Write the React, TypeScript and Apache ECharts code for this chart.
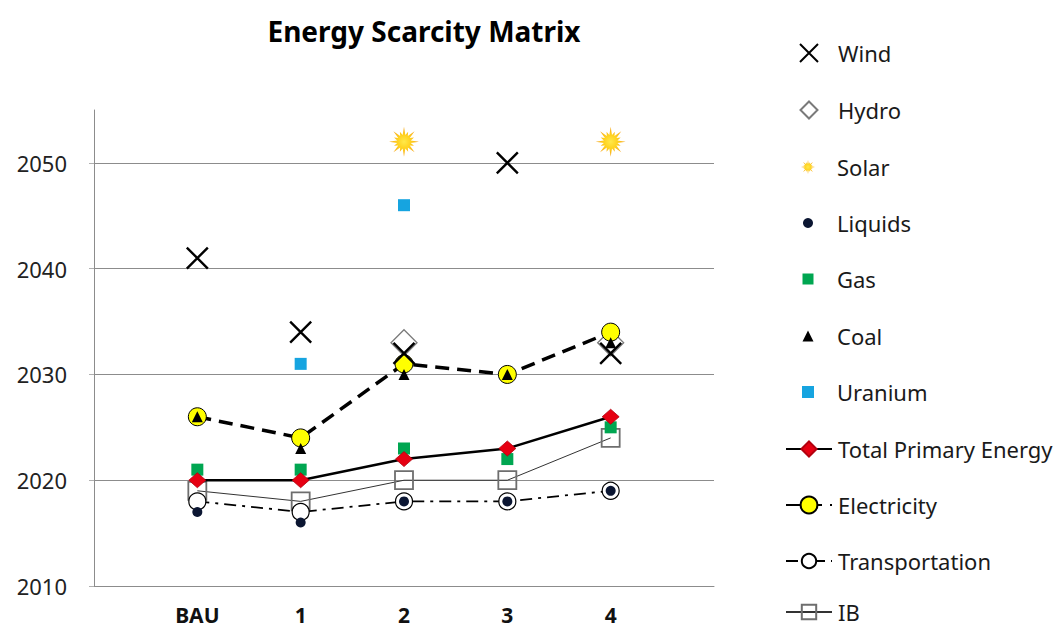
import React, { useEffect, useRef } from 'react';
import * as echarts from 'echarts';

// ---- data ----
const scenarios = ['BAU', '1', '2', '3', '4'];
const yMin = 2010;
const yMax = 2055;
const yStep = 10;
const wind = [2041, 2034, 2032, 2050, 2032];
const hydro = [null, null, 2033, null, 2033];
const solar = [null, null, 2052, null, 2052];
const liquids = [2017, 2016, 2018, 2018, 2019];
const gas = [2021, 2021, 2023, 2022, 2025];
const coal = [2026, 2023, 2030, 2030, 2033];
const uranium = [null, 2031, 2046, null, null];
const totalPrimary = [2020, 2020, 2022, 2023, 2026];
const electricity = [2026, 2024, 2031, 2030, 2034];
const transportation = [2018, 2017, 2018, 2018, 2019];
const ib = [2019, 2018, 2020, 2020, 2024];

const FONT = '"Noto Sans", "Open Sans", sans-serif';

// pad with empty slots at both ends of the category axis
const pad = (arr: (number | null)[]) => [null, ...arr, null];
const cats = ['', ...scenarios, ''];

function sunPath(): string {
  const pts: string[] = [];
  const n = 32;
  for (let i = 0; i < n; i++) {
    const a = (i * Math.PI * 2) / n - Math.PI / 2;
    let r = 4.6;
    if (i % 4 === 0) r = 10;
    else if (i % 2 === 0) r = 7.2;
    pts.push(`${(r * Math.cos(a)).toFixed(3)},${(r * Math.sin(a)).toFixed(3)}`);
  }
  return 'path://M' + pts.join('L') + 'Z';
}

const X_PATH = 'path://M0,0L20,20M20,0L0,20';

// legend layout (positions / icon sizes)
const ICON_CX = 808;
const TEXT_X = 837;
const LINE_LEFT = 785;
const legendRows = [
  { name: 'Wind', cy: 53, h: 18, line: false },
  { name: 'Hydro', cy: 110, h: 17, line: false },
  { name: 'Solar', cy: 167, h: 14, line: false },
  { name: 'Liquids', cy: 223, h: 10, line: false },
  { name: 'Gas', cy: 279, h: 11, line: false },
  { name: 'Coal', cy: 336, h: 11, line: false },
  { name: 'Uranium', cy: 392, h: 12, line: false },
  { name: 'Total Primary Energy', cy: 449, h: 19, line: true },
  { name: 'Electricity', cy: 505, h: 21, line: true },
  { name: 'Transportation', cy: 561, h: 18, line: true },
  { name: 'IB', cy: 612, h: 18, line: true },
];

export default function App() {
  const ref = useRef<HTMLDivElement>(null);
  useEffect(() => {
    if (!ref.current) return;
    const chart = echarts.init(ref.current, undefined, { renderer: 'svg' });
    const sunFill = new echarts.graphic.RadialGradient(0.5, 0.5, 0.5, [
      { offset: 0, color: '#FFE94A' },
      { offset: 0.45, color: '#FFD21F' },
      { offset: 1, color: '#F5A21A' },
    ]);
    const option: any = {
      animation: false,
      backgroundColor: '#ffffff',
      title: {
        text: 'Energy Scarcity Matrix',
        left: 424,
        top: 17,
        textAlign: 'center',
        padding: 0,
        textStyle: { fontFamily: FONT, fontWeight: 'bold', fontSize: 28, color: '#000' },
      },
      legend: legendRows.map((r) => {
        const w = r.line ? 46 : r.h;
        const left = r.line ? LINE_LEFT : ICON_CX - r.h / 2;
        const padLeft = Math.max(0, TEXT_X - (left + w + 5));
        return {
          data: [r.name],
          left,
          top: r.cy - 11,
          padding: 0,
          orient: 'vertical',
          itemWidth: w,
          itemHeight: r.h,
          selectedMode: false,
          textStyle: {
            fontFamily: FONT,
            fontSize: 22,
            color: '#1a1a1a',
            lineHeight: 22,
            padding: [0, 0, 0, padLeft],
          },
        };
      }),
      grid: { left: 94, right: 348, top: 110, bottom: 42, containLabel: false },
      xAxis: {
        type: 'category',
        data: cats,
        boundaryGap: false,
        axisLine: { show: true, lineStyle: { color: '#8c8c8c', width: 1 } },
        axisTick: { show: false },
        axisLabel: {
          interval: 0,
          margin: 19,
          fontFamily: FONT,
          fontWeight: 'bold',
          fontSize: 21,
          lineHeight: 20,
          color: '#111',
        },
        splitLine: { show: false },
      },
      yAxis: {
        type: 'value',
        min: yMin,
        max: yMax,
        interval: yStep,
        axisLine: { show: true, lineStyle: { color: '#8c8c8c', width: 1 } },
        axisTick: { show: true, length: 5, lineStyle: { color: '#b0b0b0' } },
        axisLabel: {
          margin: 27,
          fontFamily: FONT,
          fontSize: 22,
          color: '#222',
          showMaxLabel: false,
          formatter: (v: number) => String(v),
        },
        splitLine: { show: true, showMaxLine: false, lineStyle: { color: '#8c8c8c', width: 1 } },
      },
      series: [
        {
          name: 'Wind',
          type: 'scatter',
          z: 10,
          data: pad(wind),
          symbol: X_PATH,
          symbolSize: 21,
          itemStyle: { color: 'transparent', borderColor: '#000', borderWidth: 2.4, opacity: 1 },
        },
        {
          name: 'Hydro',
          type: 'scatter',
          z: 3,
          data: pad(hydro),
          symbol: 'diamond',
          symbolSize: 26,
          itemStyle: { color: 'transparent', borderColor: '#7a7a7a', borderWidth: 1.3, opacity: 1 },
        },
        {
          name: 'Solar',
          type: 'scatter',
          z: 9,
          data: pad(solar),
          symbol: sunPath(),
          symbolSize: 30,
          itemStyle: { color: sunFill, opacity: 1 },
        },
        {
          name: 'Liquids',
          type: 'scatter',
          z: 8,
          data: pad(liquids),
          symbol: 'circle',
          symbolSize: 10,
          itemStyle: { color: '#0b1632', opacity: 1 },
        },
        {
          name: 'Gas',
          type: 'scatter',
          z: 4,
          data: pad(gas),
          symbol: 'rect',
          symbolSize: 12,
          itemStyle: { color: '#00a651', opacity: 1 },
        },
        {
          name: 'Coal',
          type: 'scatter',
          z: 9,
          data: pad(coal),
          symbol: 'triangle',
          symbolSize: 11,
          itemStyle: { color: '#000', opacity: 1 },
        },
        {
          name: 'Uranium',
          type: 'scatter',
          z: 7,
          data: pad(uranium),
          symbol: 'rect',
          symbolSize: 12,
          itemStyle: { color: '#16a4e0', opacity: 1 },
        },
        {
          name: 'Total Primary Energy',
          type: 'line',
          z: 6,
          data: pad(totalPrimary),
          symbol: 'diamond',
          symbolSize: [17, 15],
          showAllSymbol: true,
          lineStyle: { color: '#000', width: 2.5 },
          itemStyle: { color: '#e60012', borderColor: '#b3000e', borderWidth: 0.8 },
        },
        {
          name: 'Electricity',
          type: 'line',
          z: 5,
          data: pad(electricity),
          symbol: 'circle',
          symbolSize: 18,
          showAllSymbol: true,
          lineStyle: { color: '#000', width: 3.5, type: [14, 8] },
          itemStyle: { color: '#ffff00', borderColor: '#000', borderWidth: 1 },
        },
        {
          name: 'Transportation',
          type: 'line',
          z: 2,
          data: pad(transportation),
          symbol: 'circle',
          symbolSize: 17,
          showAllSymbol: true,
          lineStyle: { color: '#000', width: 1.8, type: [12, 6, 3, 6] },
          itemStyle: { color: '#ffffff', borderColor: '#000', borderWidth: 1.2 },
        },
        {
          name: 'IB',
          type: 'line',
          z: 1,
          data: pad(ib),
          symbol: 'rect',
          symbolSize: 18,
          showAllSymbol: true,
          lineStyle: { color: '#333', width: 1 },
          itemStyle: { color: 'transparent', borderColor: '#6e6e6e', borderWidth: 1.8 },
        },
      ],
    };
    chart.setOption(option);
    return () => chart.dispose();
  }, []);
  return (
    <div
      ref={ref}
      style={{ position: 'fixed', left: 0, top: 0, width: 1062, height: 628, background: '#fff' }}
    />
  );
}
